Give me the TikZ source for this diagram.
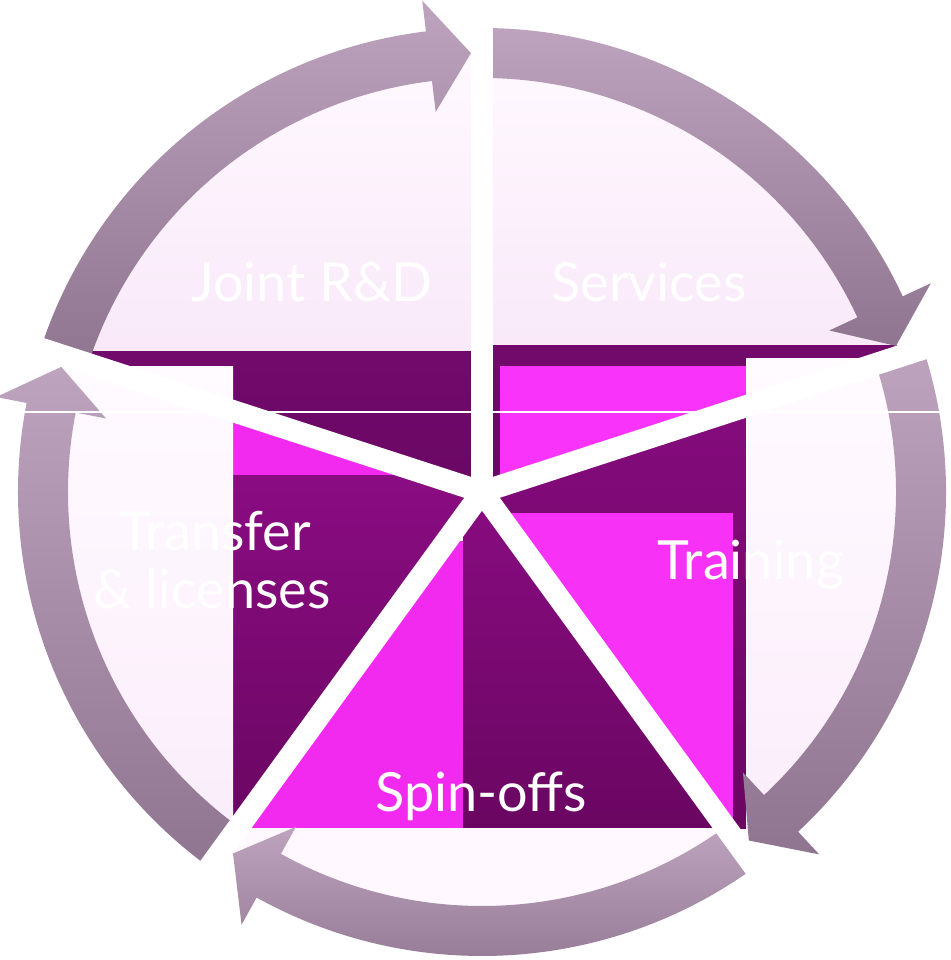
\documentclass[tikz,border=0pt]{standalone}
\usepackage{fontspec}
\setmainfont{Lato}
\definecolor{arrtop}{HTML}{BEA3BE}
\definecolor{arrbot}{HTML}{8F758F}
\definecolor{paletop}{HTML}{FFF9FF}
\definecolor{palebot}{HTML}{F6E1F6}
\definecolor{palelow}{HTML}{FFF8FF}
\definecolor{whtop}{HTML}{FFFBFF}
\definecolor{whbot}{HTML}{FBEDFB}
\definecolor{darkp}{HTML}{720A6C}
\definecolor{darkpb}{HTML}{680662}
\definecolor{midtop}{HTML}{8A0C82}
\definecolor{midbot}{HTML}{6A0662}
\definecolor{magA}{HTML}{F22AF0}
\definecolor{magB}{HTML}{FA33FA}
\definecolor{magC}{HTML}{F831F7}
\newcommand\myarrow[3]{% #1 tail angle, #2 head base angle, #3 tip angle
  \shade[top color=arrtop,bottom color=arrbot]
    ([shift={(c)}]#1:464) arc[start angle=#1,end angle=#2,radius=464]
    -- ([shift={(c)}]#2:495) -- ([shift={(c)}]#3:439) -- ([shift={(c)}]#2:383)
    -- ([shift={(c)}]#2:414) arc[start angle=#2,end angle=#1,radius=414] -- cycle;}
\newcommand\wedgeclip[2]{%
  \clip (c) circle[radius=440];
  \clip (c) -- +(#1:700) -- +({(#1+#2)/2}:700) -- +(#2:700) -- cycle;}
\begin{document}
\begin{tikzpicture}[x=1pt,y=1pt,
  lbl/.style={text=white,font=\fontsize{54}{58}\selectfont,anchor=base,inner sep=0pt},
  spokeline/.style={white,line width=22pt,line cap=round},
  wbox/.style={top color=whtop,bottom color=whbot},
  mbox/.style={top color=midtop,bottom color=midbot},
  dbox/.style={top color=darkp,bottom color=darkpb}]
\useasboundingbox (0,0) rectangle (950,960);
\coordinate (c) at (482,468);

% Joint R&D wedge (90..162)
\begin{scope}
  \wedgeclip{90}{162}
  \shade[top color=paletop,bottom color=palebot] (c) -- +(90:440) arc[start angle=90,end angle=162,radius=440] -- cycle;
  \shade[dbox] (40,440) rectangle (482,608);
  \shade[wbox] (60,130) rectangle (233,593);
\end{scope}

% Services wedge (18..90)
\begin{scope}
  \wedgeclip{18}{90}
  \shade[top color=paletop,bottom color=palebot] (c) -- +(18:440) arc[start angle=18,end angle=90,radius=440] -- cycle;
  \shade[dbox] (482,440) rectangle (950,614);
  \fill[magB] (500,440) rectangle (746,594);
  \shade[wbox] (746,130) rectangle (930,601);
\end{scope}

% Training wedge (-54..18)
\begin{scope}
  \wedgeclip{-54}{18}
  \fill[palelow] (c) circle[radius=440];
  \shade[mbox] (480,131) rectangle (746,640);
  \fill[magC] (511,131) rectangle (733,447);
  \shade[wbox] (746,130) rectangle (930,601);
\end{scope}

% Spin-offs wedge (-126..-54)
\begin{scope}
  \wedgeclip{-126}{-54}
  \fill[palelow] (c) circle[radius=440];
  \shade[mbox] (463,132) rectangle (800,480);
  \fill[magA] (150,132) rectangle (463,419);
\end{scope}

% Transfer wedge (162..234)
\begin{scope}
  \wedgeclip{162}{234}
  \fill[palelow] (c) circle[radius=440];
  \fill[magA] (233,484) rectangle (490,600);
  \shade[mbox] (233,130) rectangle (490,484);
  \shade[wbox] (60,130) rectangle (233,593);
\end{scope}

% ring arrows
\myarrow{162}{96.94}{91.44}
\myarrow{90}{24.94}{19.44}
\myarrow{18}{-47.06}{-52.56}
\myarrow{-54}{-119.06}{-124.56}
\myarrow{-126}{-191.06}{-196.56}

% thin white line
\begin{scope}
  \clip (c) circle[radius=464];
  \coordinate (hl1) at (0,548);
  \coordinate (hl2) at (950,548);
  \draw[white,line width=1.2pt] (hl1) -- (hl2);
\end{scope}

% spokes
\foreach \a in {90,18,-54,-126,162}
  \draw[spokeline] (c) -- +(\a:520);

% labels
\node[lbl] (jrd) at (312,658) {Joint R\&D};
\node[lbl] (srv) at (649,658) {Services};
\node[lbl] (trf1) at (215,409) {Transfer};
\node[lbl] (trf2) at (212,351) {\& licenses};
\node[lbl] (trn) at (751,380) {Training};
\node[lbl] (spn) at (481,148) {Spin-offs};
\end{tikzpicture}
\end{document}
